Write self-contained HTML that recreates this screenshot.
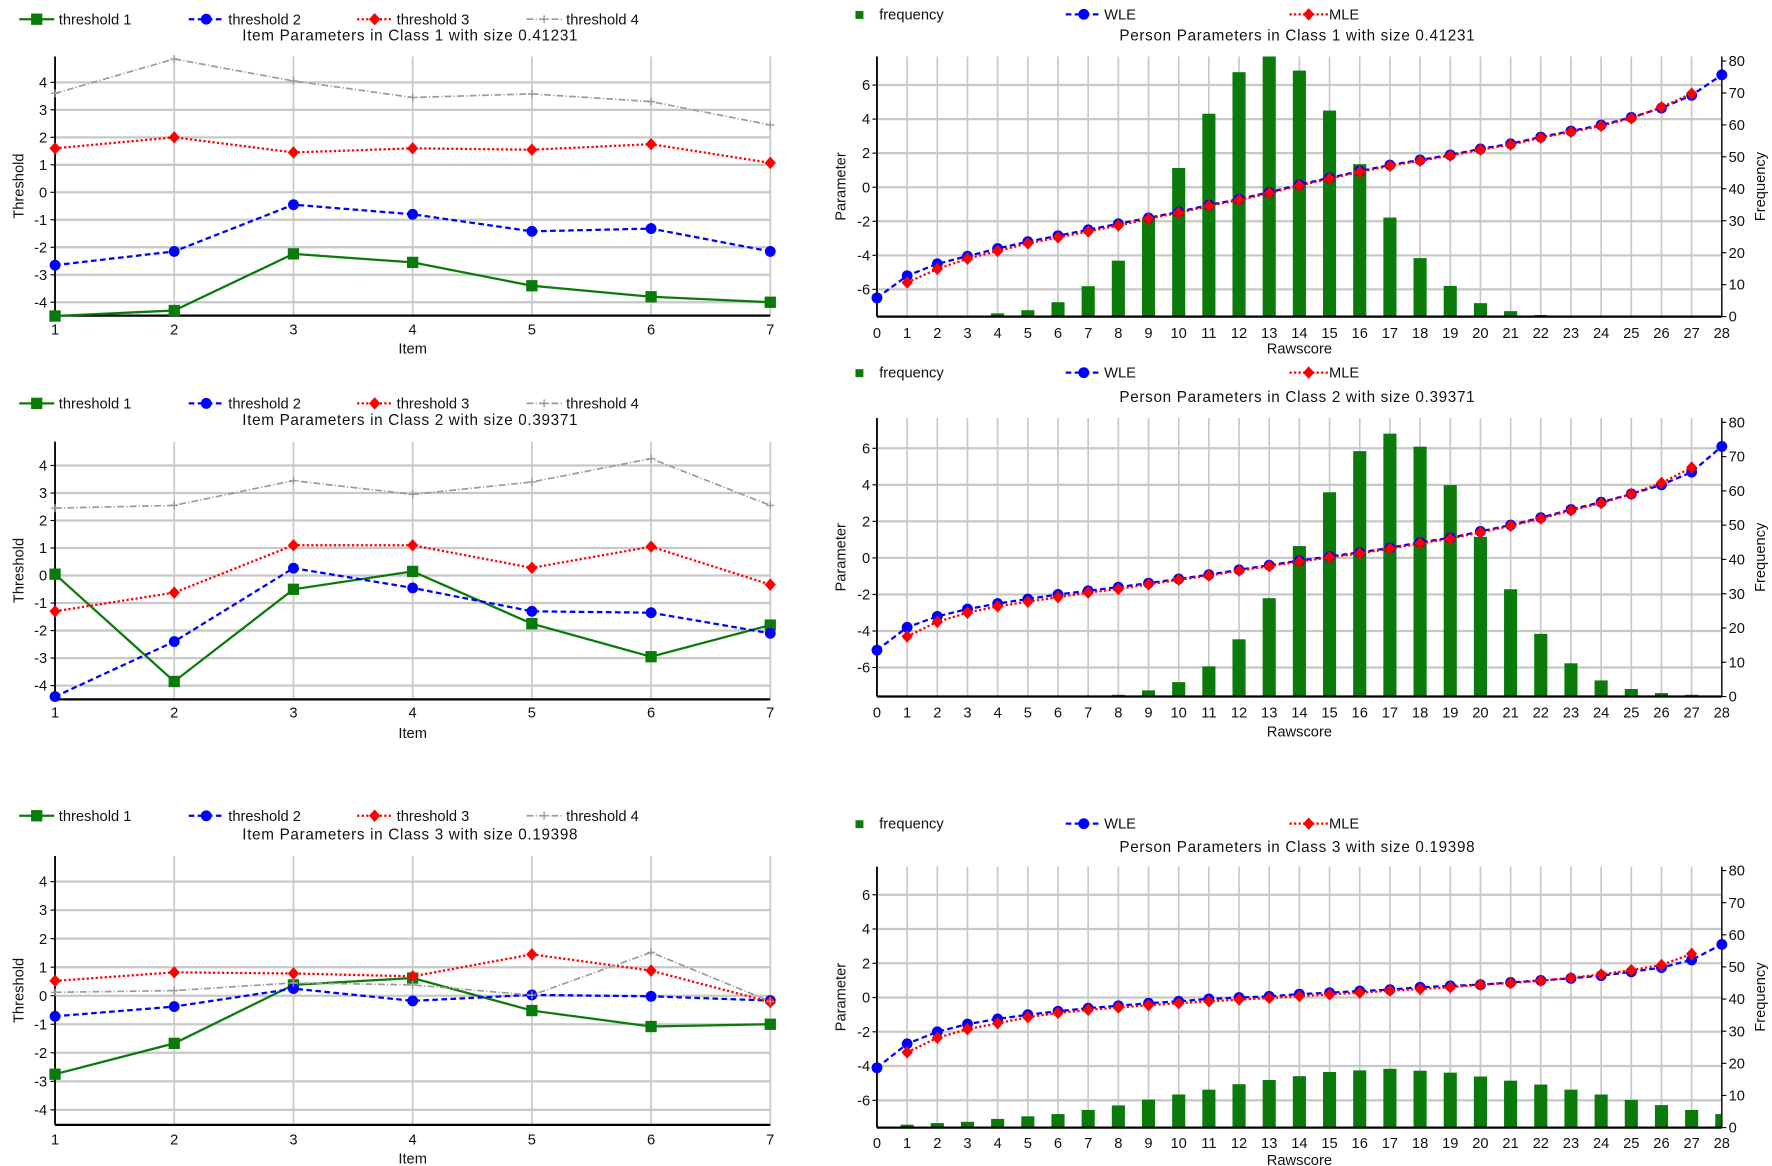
<!DOCTYPE html>
<html><head><meta charset="utf-8"><style>
html,body{margin:0;padding:0;background:#fff;}
svg{display:block;font-family:"Liberation Sans",sans-serif;}
</style></head><body>
<svg id="fig" width="1772" height="1166" viewBox="0 0 1568 1032" preserveAspectRatio="none" xmlns="http://www.w3.org/2000/svg"></svg>
<script>
// ---------- data: item parameter charts ----------
const items = [1,2,3,4,5,6,7];
const thresholdTicks = [-4,-3,-2,-1,0,1,2,3,4];
const c1t1 = [-4.5,-4.3,-2.24,-2.55,-3.4,-3.8,-4.0];
const c1t2 = [-2.65,-2.15,-0.45,-0.8,-1.42,-1.32,-2.15];
const c1t3 = [1.6,2.0,1.45,1.6,1.55,1.75,1.07];
const c1t4 = [3.6,4.85,4.05,3.45,3.58,3.3,2.45];
const c2t1 = [0.05,-3.85,-0.5,0.15,-1.75,-2.95,-1.8];
const c2t2 = [-4.4,-2.4,0.27,-0.45,-1.3,-1.35,-2.1];
const c2t3 = [-1.3,-0.62,1.1,1.1,0.28,1.05,-0.33];
const c2t4 = [2.45,2.55,3.45,2.95,3.4,4.25,2.55];
const c3t1 = [-2.75,-1.67,0.38,0.62,-0.52,-1.08,-1.0];
const c3t2 = [-0.72,-0.38,0.25,-0.18,0.03,-0.02,-0.17];
const c3t3 = [0.52,0.82,0.78,0.68,1.45,0.88,-0.22];
const c3t4 = [0.12,0.18,0.45,0.38,0.02,1.52,-0.2];
const itemTitles = ["Item Parameters in Class 1 with size  0.41231","Item Parameters in Class 2 with size  0.39371","Item Parameters in Class 3 with size  0.19398"];
// ---------- data: person parameter charts ----------
const rawscores = [0,1,2,3,4,5,6,7,8,9,10,11,12,13,14,15,16,17,18,19,20,21,22,23,24,25,26,27,28];
const paramTicks = [-6,-4,-2,0,2,4,6];
const freqTicks = [0,10,20,30,40,50,60,70,80];
const p1wle = [-6.5,-5.2,-4.5,-4.05,-3.6,-3.2,-2.85,-2.5,-2.15,-1.8,-1.45,-1.05,-0.7,-0.3,0.15,0.55,0.95,1.3,1.6,1.9,2.25,2.55,2.95,3.3,3.65,4.1,4.65,5.4,6.6];
const p1mle = [null,-5.6,-4.8,-4.2,-3.75,-3.3,-2.95,-2.6,-2.25,-1.85,-1.5,-1.1,-0.75,-0.35,0.1,0.5,0.9,1.25,1.55,1.85,2.2,2.5,2.9,3.25,3.6,4.05,4.7,5.5,null];
const p1freq = [0,0,0,0,1,2,4.5,9.5,17.5,31,46.5,63.5,76.5,81.5,77,64.5,47.7,31,18.3,9.6,4.2,1.7,0.5,0,0,0,0,0,0];
const p2wle = [-5.05,-3.8,-3.2,-2.8,-2.5,-2.25,-2.0,-1.8,-1.6,-1.38,-1.15,-0.92,-0.65,-0.4,-0.15,0.08,0.3,0.55,0.85,1.1,1.45,1.8,2.2,2.65,3.05,3.5,4.0,4.7,6.1];
const p2mle = [null,-4.3,-3.5,-3.0,-2.65,-2.4,-2.15,-1.9,-1.7,-1.45,-1.2,-0.97,-0.7,-0.45,-0.2,0.03,0.25,0.5,0.8,1.05,1.4,1.75,2.15,2.6,3.0,3.5,4.1,4.95,null];
const p2freq = [0,0,0,0,0,0,0,0,0.5,1.8,4.2,8.8,16.7,28.7,43.9,59.6,71.6,76.7,72.9,61.7,46.6,31.3,18.3,9.7,4.7,2.2,1.0,0.5,0];
const p3wle = [-4.1,-2.7,-2.0,-1.55,-1.25,-1.0,-0.8,-0.62,-0.48,-0.33,-0.22,-0.08,0.0,0.07,0.2,0.28,0.38,0.46,0.6,0.68,0.75,0.88,1.0,1.12,1.28,1.5,1.75,2.2,3.1];
const p3mle = [null,-3.2,-2.35,-1.85,-1.5,-1.15,-0.9,-0.72,-0.58,-0.45,-0.33,-0.22,-0.12,-0.03,0.08,0.18,0.28,0.4,0.5,0.6,0.75,0.85,0.98,1.15,1.35,1.6,1.9,2.55,null];
const p3freq = [0.3,0.9,1.4,1.8,2.7,3.5,4.2,5.5,6.9,8.7,10.3,11.8,13.5,14.8,16,17.3,17.8,18.3,17.7,17.1,15.9,14.6,13.4,11.8,10.3,8.6,7.0,5.5,4.2];
const personTitles = ["Person Parameters in Class 1 with size  0.41231","Person Parameters in Class 2 with size  0.39371","Person Parameters in Class 3 with size  0.19398"];

const NS = "http://www.w3.org/2000/svg";
const svg = document.getElementById('fig');
function el(tag, attrs, parent, text){
  const e = document.createElementNS(NS, tag);
  for (const k in attrs) e.setAttribute(k, attrs[k]);
  if (text !== undefined) e.textContent = text;
  (parent || svg).appendChild(e);
  return e;
}
const GREEN="#0a7a0a", BLUE="#0000ff", RED="#ff0000", GREY="#9a9a9a", GRID="#c8c8c8";

function marker(g, type, x, y){
  let m;
  if (type==='sq') m = el('rect',{x:x-5,y:y-5,width:10,height:10,fill:GREEN},g);
  else if (type==='ci') m = el('circle',{cx:x,cy:y,r:4.8,fill:BLUE},g);
  else if (type==='di') m = el('polygon',{points:`${x},${y-5.5} ${x+5},${y} ${x},${y+5.5} ${x-5},${y}`,fill:RED},g);
  else m = el('path',{d:`M${x-3.5} ${y}H${x+3.5}M${x} ${y-3.5}V${y+3.5}`,stroke:GREY,'stroke-width':1.2},g);
  
  
  return m;
}
const styles = {
  t1:{stroke:GREEN,dash:'',w:2,mk:'sq'},
  t2:{stroke:BLUE,dash:'5,3',w:2,mk:'ci'},
  t3:{stroke:RED,dash:'2,2',w:2,mk:'di'},
  t4:{stroke:GREY,dash:'6,2,1,2',w:1.5,mk:'pl'}
};

// ---------- item panels ----------
const itemPanels = [
  {y0:170.2,u:24.33,top:50,bot:279.4,leg:17,title:36,tick:296,lab:313,series:[c1t1,c1t2,c1t3,c1t4],name:'class-1'},
  {y0:509.4,u:24.35,top:390.9,bot:619,leg:357,title:376,tick:635,lab:653,series:[c2t1,c2t2,c2t3,c2t4],name:'class-2'},
  {y0:881.3,u:25.25,top:757.6,bot:995.6,leg:722,title:743,tick:1013,lab:1030,series:[c3t1,c3t2,c3t3,c3t4],name:'class-3'}
];
const ix0=48.7, ix1=681.6;
function xItem(i){ return ix0 + (i-1)*(ix1-ix0)/6; }

itemPanels.forEach((p,pi)=>{
  const g = el('g',{});
  
  
  const yS = v => p.y0 - v*p.u;
  items.forEach(i=>{ el('line',{x1:xItem(i),x2:xItem(i),y1:p.top,y2:p.bot,stroke:GRID,'stroke-width':1.5},g); });
  thresholdTicks.forEach(t=>{
    el('line',{x1:ix0,x2:ix1,y1:yS(t),y2:yS(t),stroke:GRID,'stroke-width':2},g);
    el('line',{x1:ix0-4,x2:ix0,y1:yS(t),y2:yS(t),stroke:'#000','stroke-width':1},g);
    const tl = el('text',{x:ix0-7,y:yS(t)+4.5,'font-size':13,'text-anchor':'end',fill:'#111'},g,String(t));
    
    
  });
  el('line',{x1:ix0,x2:ix0,y1:p.top,y2:p.bot,stroke:'#000','stroke-width':1.6},g);
  el('line',{x1:ix0,x2:ix1,y1:p.bot,y2:p.bot,stroke:'#000','stroke-width':2},g);
  items.forEach(i=>{
    const tl = el('text',{x:xItem(i),y:p.tick,'font-size':13,'text-anchor':'middle',fill:'#111'},g,String(i));
    
    
  });
  const xl = el('text',{x:(ix0+ix1)/2,y:p.lab,'font-size':13,'text-anchor':'middle',fill:'#111'},g,'Item');
  
  
  const ym = (p.top+p.bot)/2;
  const yl = el('text',{x:21,y:ym,'font-size':13,'text-anchor':'middle',fill:'#111',transform:`rotate(-90 21 ${ym})`},g,'Threshold');
  
  
  const tt = el('text',{x:363,y:p.title,'font-size':13.5,'letter-spacing':0.6,'text-anchor':'middle',fill:'#111'},g,itemTitles[pi]);
  
  
  const keys=['t1','t2','t3','t4'];
  const lx=[17,167,316,466];
  keys.forEach((k,ki)=>{
    const s=styles[k];
    const lg = el('g',{},g);
    
    
    el('line',{x1:lx[ki],x2:lx[ki]+31,y1:p.leg,y2:p.leg,stroke:s.stroke,'stroke-width':s.w,'stroke-dasharray':s.dash},lg);
    marker(lg,s.mk,lx[ki]+15.5,p.leg);
    el('text',{x:lx[ki]+35,y:p.leg+4.5,'font-size':13,fill:'#111'},lg,'threshold '+(ki+1));
  });
  p.series.forEach((arr,si)=>{
    const s=styles[keys[si]];
    const sg = el('g',{},g);
    
    
    const pts = arr.map((v,i)=>`${xItem(items[i])},${yS(v)}`).join(' ');
    el('polyline',{points:pts,fill:'none',stroke:s.stroke,'stroke-width':s.w,'stroke-dasharray':s.dash},sg);
    arr.forEach((v,i)=>marker(sg,s.mk,xItem(items[i]),yS(v)));
  });
});

// ---------- person panels ----------
const personPanels = [
  {y0:165.7,u:15.07,f0:280.2,f80:54,top:50,leg:12.7,title:36,tick:299,lab:313,wle:p1wle,mle:p1mle,freq:p1freq,name:'class-1'},
  {y0:493.8,u:16.17,f0:616.5,f80:373.8,top:370,leg:329.8,title:356,tick:635,lab:652,wle:p2wle,mle:p2mle,freq:p2freq,name:'class-2'},
  {y0:882.9,u:15.16,f0:998,f80:770.5,top:767,leg:729,title:754,tick:1016,lab:1031,wle:p3wle,mle:p3mle,freq:p3freq,name:'class-3'}
];
const rx0=776, rx1=1523.6;
function xRaw(r){ return rx0 + r*(rx1-rx0)/28; }

personPanels.forEach((p,pi)=>{
  const g = el('g',{});
  
  
  const yS = v => p.y0 - v*p.u;
  const fS = f => p.f0 - f*(p.f0-p.f80)/80;
  const bot = p.f0;
  const clipId = 'clip'+pi;
  const cp = el('clipPath',{id:clipId},g);
  el('rect',{x:rx0,y:p.top,width:rx1-rx0,height:bot-p.top},cp);
  rawscores.forEach(r=>{ el('line',{x1:xRaw(r),x2:xRaw(r),y1:p.top,y2:bot,stroke:GRID,'stroke-width':1.5},g); });
  paramTicks.forEach(t=>{
    el('line',{x1:rx0,x2:rx1,y1:yS(t),y2:yS(t),stroke:GRID,'stroke-width':2},g);
    el('line',{x1:rx0-4,x2:rx0,y1:yS(t),y2:yS(t),stroke:'#000','stroke-width':1},g);
    const tl = el('text',{x:rx0-6,y:yS(t)+4.5,'font-size':13,'text-anchor':'end',fill:'#111'},g,String(t));
    
    
  });
  freqTicks.forEach(f=>{
    el('line',{x1:rx1,x2:rx1+4,y1:fS(f),y2:fS(f),stroke:'#000','stroke-width':1},g);
    const tl = el('text',{x:rx1+6,y:fS(f)+4.5,'font-size':13,fill:'#111'},g,String(f));
    
    
  });
  const bg = el('g',{'clip-path':`url(#${clipId})`},g);
  
  
  p.freq.forEach((f,i)=>{
    if (f<=0) return;
    const b = el('rect',{x:xRaw(rawscores[i])-5.8,y:fS(f),width:11.6,height:bot-fS(f),fill:GREEN},bg);
    
    
  });
  el('line',{x1:rx0,x2:rx0,y1:p.top,y2:bot,stroke:'#000','stroke-width':1.6},g);
  el('line',{x1:rx1,x2:rx1,y1:p.top,y2:bot,stroke:'#000','stroke-width':1.2},g);
  el('line',{x1:rx0,x2:rx1,y1:bot,y2:bot,stroke:'#000','stroke-width':2},g);
  rawscores.forEach(r=>{
    const tl = el('text',{x:xRaw(r),y:p.tick,'font-size':13,'text-anchor':'middle',fill:'#111'},g,String(r));
    
    
  });
  const xl = el('text',{x:(rx0+rx1)/2,y:p.lab,'font-size':13,'text-anchor':'middle',fill:'#111'},g,'Rawscore');
  
  
  const ym=(p.top+bot)/2;
  const yl = el('text',{x:748,y:ym,'font-size':13,'text-anchor':'middle',fill:'#111',transform:`rotate(-90 748 ${ym})`},g,'Parameter');
  
  
  const yr = el('text',{x:1562,y:ym,'font-size':13,'text-anchor':'middle',fill:'#111',transform:`rotate(-90 1562 ${ym})`},g,'Frequency');
  
  
  const tt = el('text',{x:1148,y:p.title,'font-size':13.5,'letter-spacing':0.6,'text-anchor':'middle',fill:'#111'},g,personTitles[pi]);
  
  
  const l1 = el('g',{},g);
  
  
  el('rect',{x:757,y:p.leg-3,width:7,height:7,fill:GREEN},l1);
  el('text',{x:778,y:p.leg+4.5,'font-size':13,fill:'#111'},l1,'frequency');
  const l2 = el('g',{},g);
  
  
  el('line',{x1:943,x2:975,y1:p.leg,y2:p.leg,stroke:BLUE,'stroke-width':2,'stroke-dasharray':'5,3'},l2);
  marker(l2,'ci',959,p.leg);
  el('text',{x:977,y:p.leg+4.5,'font-size':13,fill:'#111'},l2,'WLE');
  const l3 = el('g',{},g);
  
  
  el('line',{x1:1141,x2:1175,y1:p.leg,y2:p.leg,stroke:RED,'stroke-width':2,'stroke-dasharray':'2,2'},l3);
  marker(l3,'di',1158,p.leg);
  el('text',{x:1176,y:p.leg+4.5,'font-size':13,fill:'#111'},l3,'MLE');
  const wg = el('g',{},g);
  
  
  el('polyline',{points:p.wle.map((v,i)=>`${xRaw(rawscores[i])},${yS(v)}`).join(' '),fill:'none',stroke:BLUE,'stroke-width':2,'stroke-dasharray':'5,3'},wg);
  const mg = el('g',{},g);
  
  
  const mp=[]; p.mle.forEach((v,i)=>{ if(v!==null) mp.push(`${xRaw(rawscores[i])},${yS(v)}`); });
  el('polyline',{points:mp.join(' '),fill:'none',stroke:RED,'stroke-width':2,'stroke-dasharray':'2,2'},mg);
  p.wle.forEach((v,i)=>marker(wg,'ci',xRaw(rawscores[i]),yS(v)));
  p.mle.forEach((v,i)=>{ if(v!==null) marker(mg,'di',xRaw(rawscores[i]),yS(v)); });
});
</script>
</body></html>
